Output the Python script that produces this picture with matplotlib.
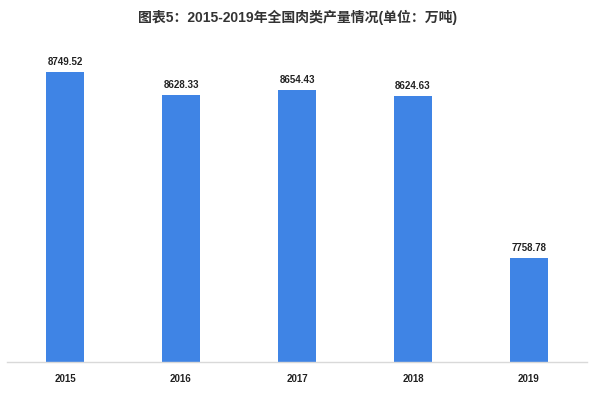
import matplotlib.pyplot as plt

plt.rcParams['font.family'] = ['Liberation Sans', 'Noto Sans CJK SC', 'DejaVu Sans']

# 数据
years = ['2015', '2016', '2017', '2018', '2019']
output = [8749.52, 8628.33, 8654.43, 8624.63, 7758.78]
title = '图表5：2015-2019年全国肉类产量情况(单位：万吨)'

fig = plt.figure(figsize=(5.95, 3.98), dpi=100)
ax = fig.add_axes([7 / 595, 1 - 362 / 398, 580 / 595, 322 / 398])

x = range(len(years))
bars = ax.bar(x, output, width=0.32, color='#3f84e5', zorder=2)
ax.set_ylim(7205, 7205 + 322 * 5.327)
ax.set_xlim(-0.5, len(years) - 0.5)

for b, v in zip(bars, output):
    ax.text(b.get_x() + b.get_width() / 2, v + 25, f'{v:.2f}',
            ha='center', va='bottom', fontsize=7, fontweight='bold', color='#222222')

ax.set_xticks(list(x))
ax.set_xticklabels(years, fontsize=7, fontweight='bold', color='#222222')
ax.tick_params(axis='x', length=0, pad=9)
ax.set_yticks([])
for s in ['top', 'right', 'left']:
    ax.spines[s].set_visible(False)
ax.spines['bottom'].set_color('#d9d9d9')
ax.spines['bottom'].set_linewidth(1)

fig.text(0.5, 1 - 17 / 398, title, ha='center', va='center',
         fontsize=10, fontweight='bold', color='#333333')

fig.savefig('out.png', dpi=100)
